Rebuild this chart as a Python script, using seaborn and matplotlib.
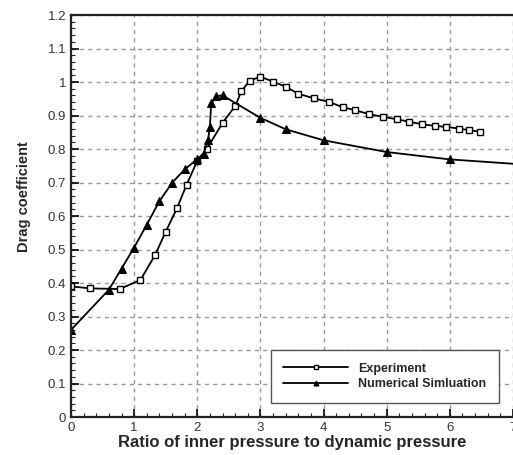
import numpy as np
import pandas as pd
import matplotlib
matplotlib.use('Agg')
import matplotlib.pyplot as plt
import seaborn as sns
from matplotlib.ticker import MultipleLocator

# Experiment (open squares)
exp_x = [0.0, 0.3, 0.77, 1.1, 1.33, 1.5, 1.68, 1.83, 2.0, 2.15, 2.4, 2.6, 2.7, 2.83,
         3.0, 3.2, 3.4, 3.6, 3.85, 4.08, 4.3, 4.5, 4.72, 4.94, 5.16, 5.36, 5.56,
         5.76, 5.94, 6.15, 6.31, 6.47]
exp_y = [0.39, 0.384, 0.382, 0.409, 0.483, 0.553, 0.624, 0.693, 0.765, 0.80, 0.878,
         0.928, 0.973, 1.004, 1.016, 1.001, 0.986, 0.965, 0.951, 0.941, 0.925, 0.916,
         0.904, 0.896, 0.889, 0.881, 0.874, 0.869, 0.866, 0.861, 0.856, 0.852]

# Numerical simulation (filled triangles)
num_x = [0.0, 0.6, 0.8, 1.0, 1.2, 1.4, 1.6, 1.8, 2.0, 2.1, 2.17, 2.2, 2.22, 2.3,
         2.4, 3.0, 3.4, 4.0, 5.0, 6.0, 7.0]
num_y = [0.26, 0.38, 0.443, 0.506, 0.574, 0.644, 0.699, 0.739, 0.77, 0.786, 0.826,
         0.866, 0.936, 0.958, 0.96, 0.893, 0.859, 0.826, 0.791, 0.769, 0.756]

x_ticks = [0, 1, 2, 3, 4, 5, 6, 7]
y_ticks = [0, 0.1, 0.2, 0.3, 0.4, 0.5, 0.6, 0.7, 0.8, 0.9, 1.0, 1.1, 1.2]
y_labels = ['0', '0.1', '0.2', '0.3', '0.4', '0.5', '0.6', '0.7', '0.8', '0.9',
            '1', '1.1', '1.2']

sns.set_style('ticks')
plt.rcParams['font.family'] = ['Liberation Sans', 'DejaVu Sans']

fig = plt.figure(figsize=(5.13, 4.55), dpi=100)
ax = fig.add_axes([0.1384, 0.0835, 0.8616, 0.8835])

sns.lineplot(x=exp_x, y=exp_y, ax=ax, sort=False, estimator=None, color='black',
             lw=1.3, marker='s', markersize=4.5, markerfacecolor='white',
             markeredgecolor='black', markeredgewidth=1.0, label='Experiment')
sns.lineplot(x=num_x, y=num_y, ax=ax, sort=False, estimator=None, color='black',
             lw=1.3, marker='^', markersize=6, markerfacecolor='black',
             markeredgecolor='black', markevery=list(range(len(num_x) - 1)),
             label='Numerical Simluation')

ax.set_xticks(x_ticks)
ax.set_xticklabels([str(t) for t in x_ticks])
ax.set_yticks(y_ticks)
ax.set_yticklabels(y_labels)
ax.xaxis.set_minor_locator(MultipleLocator(0.2))
ax.yaxis.set_minor_locator(MultipleLocator(0.02))
ax.set_xlim(0, 7)
ax.set_ylim(0, 1.2)

ax.tick_params(which='major', direction='in', length=6, width=1.2, labelsize=9.5,
               colors='black', labelcolor='#333333')
ax.tick_params(which='minor', direction='in', length=3, width=0.8)
ax.grid(True, which='major', ls=(0, (3, 3)), color='#999999', lw=1)

for s in ['left', 'bottom', 'top']:
    ax.spines[s].set_linewidth(1.6)
    ax.spines[s].set_color('#222222')
ax.spines['right'].set_visible(False)

ax.set_xlabel('Ratio of inner pressure to dynamic pressure', fontsize=12,
              fontweight='bold', labelpad=1)
ax.set_ylabel('Drag coefficient', fontsize=10.5, fontweight='bold')
ax.yaxis.set_label_coords(-0.091, 0.547)

leg = ax.legend(loc='lower right', bbox_to_anchor=(0.968, 0.035),
                prop={'weight': 'bold', 'size': 9}, frameon=True, fancybox=False,
                handlelength=5.2, borderpad=1.0, labelspacing=0.3, markerscale=0.6,
                handletextpad=0.8, borderaxespad=0)
leg.get_frame().set_edgecolor('#555555')
leg.get_frame().set_linewidth(1.0)
leg.get_frame().set_alpha(1)

fig.savefig('out.png', dpi=100)
